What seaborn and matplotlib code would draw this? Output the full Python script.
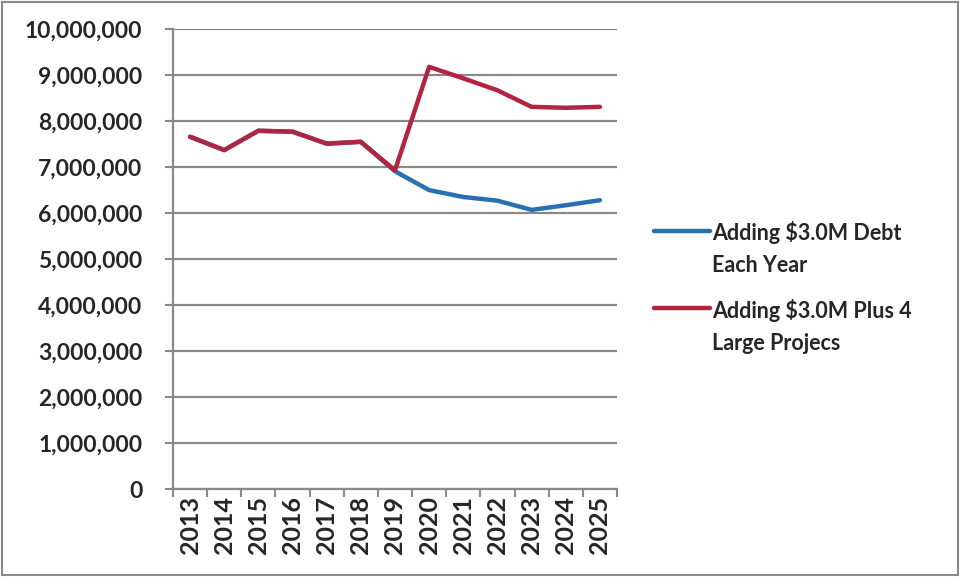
import pandas as pd
import matplotlib.pyplot as plt
import matplotlib.ticker as mticker
from matplotlib.patches import Rectangle
from matplotlib.legend_handler import HandlerLine2D
import seaborn as sns

years = list(range(2013, 2026))
debt_only = [7660000, 7370000, 7790000, 7770000, 7510000, 7550000, 6910000,
             6500000, 6350000, 6270000, 6070000, 6170000, 6280000]
debt_plus_projects = [7660000, 7370000, 7790000, 7770000, 7510000, 7550000, 6930000,
                      9180000, 8930000, 8670000, 8310000, 8290000, 8310000]
series_names = ['Adding $3.0M Debt\nEach Year', 'Adding $3.0M Plus 4\nLarge Projecs']
colors = ['#2b6fb3', '#b3253f']

df = pd.concat([
    pd.DataFrame({'year': years, 'value': debt_only, 'series': series_names[0]}),
    pd.DataFrame({'year': years, 'value': debt_plus_projects, 'series': series_names[1]}),
])


# legend handle sits on the first text line, like Excel does
class FirstLineHandler(HandlerLine2D):
    def create_artists(self, legend, orig_handle, xdescent, ydescent, width, height,
                       fontsize, trans):
        artists = super().create_artists(legend, orig_handle, xdescent, ydescent,
                                         width, height, fontsize, trans)
        for a in artists:
            a.set_ydata([y + 0.88 * fontsize for y in a.get_ydata()])
        return artists


sns.set_style('white')
plt.rcParams['font.family'] = ['Lato', 'DejaVu Sans']
text_color = '#262626'
grid_color = '#8a8a8a'

fig = plt.figure(figsize=(9.61, 5.77), dpi=100)
ax = fig.add_axes([0.180, 0.1525, 0.462, 0.797])

sns.lineplot(data=df, x='year', y='value', hue='series', hue_order=series_names,
             palette=colors, linewidth=3.2, ax=ax)

ax.set_xlim(2012.5, 2025.5)
ax.set_ylim(0, 10000000)
ax.set_yticks(range(0, 10000001, 1000000))
ax.yaxis.set_major_formatter(mticker.FuncFormatter(lambda v, p: f'{int(v):,}'))
ax.set_xticks(years)
ax.set_xticks([y - 0.5 for y in years] + [2025.5], minor=True)
ax.set_xticklabels([str(y) for y in years], rotation=90)
ax.tick_params(axis='x', which='major', length=0, pad=5)
ax.tick_params(axis='x', which='minor', length=6, width=1.5, color=grid_color, bottom=True)
ax.tick_params(axis='y', length=6, width=1.5, color=grid_color, left=True, pad=16)
for lab in ax.get_xticklabels():
    lab.set_fontsize(18)
    lab.set_fontweight('bold')
    lab.set_color(text_color)
for lab in ax.get_yticklabels():
    lab.set_fontsize(16.5)
    lab.set_fontweight('bold')
    lab.set_color(text_color)

ax.grid(axis='y', color=grid_color, linewidth=1.6)
ax.set_axisbelow(True)
for side in ['top', 'right']:
    ax.spines[side].set_visible(False)
for side in ['left', 'bottom']:
    ax.spines[side].set_color(grid_color)
    ax.spines[side].set_linewidth(1.6)
ax.set_xlabel('')
ax.set_ylabel('')

handles, labels = ax.get_legend_handles_labels()
leg = ax.legend(handles, labels, loc='upper left', bbox_to_anchor=(1.04, 0.625), frameon=False,
                handlelength=2.6, handletextpad=0.1, labelspacing=1.05,
                prop={'size': 15.5, 'weight': 'bold'}, labelcolor=text_color,
                handler_map={h: FirstLineHandler() for h in handles})
for t in leg.get_texts():
    t.set_linespacing(1.65)

fig.patches.append(Rectangle((0.002, 0.003), 0.995, 0.994, transform=fig.transFigure,
                             fill=False, edgecolor=grid_color, linewidth=1.5))

fig.savefig('out.png', dpi=100)
